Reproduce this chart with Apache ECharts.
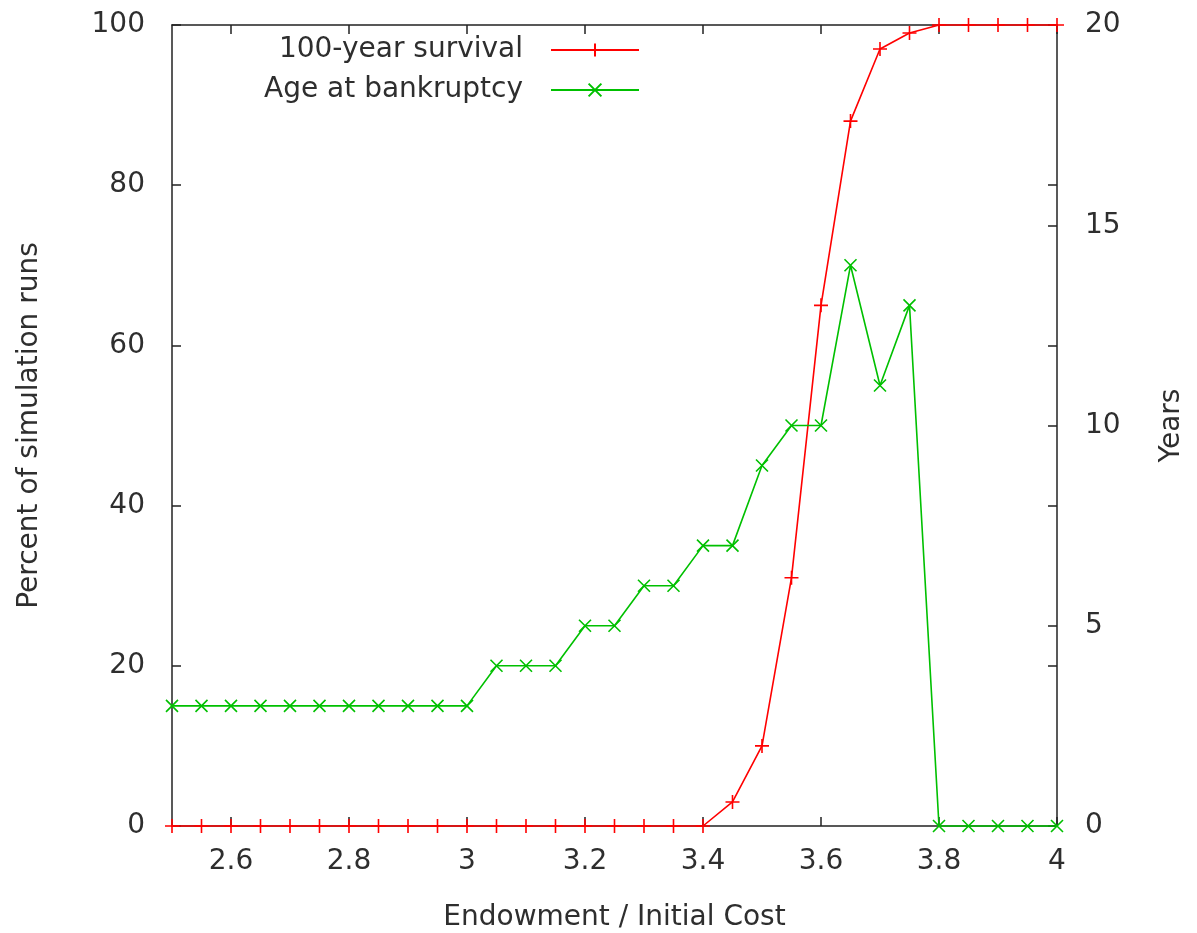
<!DOCTYPE html>
<html>
<head>
<meta charset="utf-8">
<script src="https://cdn.jsdelivr.net/npm/echarts@6/dist/echarts.min.js"></script>
<style>html,body{margin:0;padding:0;background:#fff;}#c{width:1197px;height:933px;}</style>
</head>
<body>
<div id="c"></div>
<script>
const endowment = [2.5, 2.55, 2.6, 2.65, 2.7, 2.75, 2.8, 2.85, 2.9, 2.95, 3.0, 3.05, 3.1, 3.15, 3.2, 3.25, 3.3, 3.35, 3.4, 3.45, 3.5, 3.55, 3.6, 3.65, 3.7, 3.75, 3.8, 3.85, 3.9, 3.95, 4.0];
const survivalPct = [0, 0, 0, 0, 0, 0, 0, 0, 0, 0, 0, 0, 0, 0, 0, 0, 0, 0, 0, 3, 10, 31, 65, 88, 97, 99, 100, 100, 100, 100, 100];
const bankruptcyAge = [3, 3, 3, 3, 3, 3, 3, 3, 3, 3, 3, 4, 4, 4, 5, 5, 6, 6, 7, 7, 9, 10, 10, 14, 11, 13, 0, 0, 0, 0, 0];
const xTicks = [2.6, 2.8, 3.0, 3.2, 3.4, 3.6, 3.8, 4.0];
const seriesNames = ['100-year survival', 'Age at bankruptcy'];
const axisNames = {x: 'Endowment / Initial Cost', y: 'Percent of simulation runs', y2: 'Years'};

const FONT = 'DejaVu Sans';
const TXT = '#2e2e2e';
const AX = '#222';
const fontSize = 28;

const chart = echarts.init(document.getElementById('c'), null, {renderer: 'canvas'});
const axLine = {show: true, onZero: false, lineStyle: {color: AX, width: 1.5}};
const tick = {show: true, inside: true, length: 9, lineStyle: {color: AX, width: 1.5}};
const lbl = {color: TXT, fontFamily: FONT, fontSize: fontSize};

const plus = 'path://M0,5L10,5M5,0L5,10';
const cross = 'path://M0,0L10,10M10,0L0,10';

chart.setOption({
  animation: false,
  backgroundColor: '#fff',
  grid: {left: 172, right: 140, top: 25, bottom: 107, containLabel: false, outerBoundsMode: 'none'},
  legend: [
    {data: [seriesNames[0]], right: 557, top: 36, align: 'right', padding: 0, itemWidth: 88, itemHeight: 16,
     textStyle: {color: TXT, fontFamily: FONT, fontSize: fontSize, padding: [0, 23, 0, 0]}},
    {data: [seriesNames[1]], right: 557, top: 76, align: 'right', padding: 0, itemWidth: 88, itemHeight: 16,
     textStyle: {color: TXT, fontFamily: FONT, fontSize: fontSize, padding: [0, 23, 0, 0]}}
  ],
  xAxis: [
    {type: 'value', min: 2.5, max: 4, position: 'bottom',
     name: axisNames.x, nameLocation: 'middle', nameGap: 78,
     nameTextStyle: {color: TXT, fontFamily: FONT, fontSize: fontSize},
     axisLine: axLine, axisTick: Object.assign({customValues: xTicks}, tick),
     axisLabel: Object.assign({customValues: xTicks, margin: 22}, lbl),
     splitLine: {show: false}},
    {type: 'value', min: 2.5, max: 4, position: 'top',
     axisLine: axLine, axisTick: Object.assign({customValues: xTicks}, tick),
     axisLabel: {show: false}, splitLine: {show: false}}
  ],
  yAxis: [
    {type: 'value', min: 0, max: 100, interval: 20, position: 'left',
     name: axisNames.y, nameLocation: 'middle', nameGap: 128, nameRotate: 90,
     nameTextStyle: {color: TXT, fontFamily: FONT, fontSize: fontSize},
     axisLine: axLine, axisTick: tick,
     axisLabel: Object.assign({margin: 27}, lbl), splitLine: {show: false}},
    {type: 'value', min: 0, max: 20, interval: 5, position: 'right',
     name: axisNames.y2, nameLocation: 'middle', nameGap: 101, nameRotate: 90,
     nameTextStyle: {color: TXT, fontFamily: FONT, fontSize: fontSize},
     axisLine: axLine, axisTick: tick,
     axisLabel: Object.assign({margin: 28}, lbl), splitLine: {show: false}},
    {type: 'value', min: 0, max: 100, interval: 20, position: 'right',
     axisLine: {show: false}, axisTick: tick, axisLabel: {show: false}, splitLine: {show: false}}
  ],
  series: [
    {name: seriesNames[0], type: 'line', xAxisIndex: 0, yAxisIndex: 0, clip: false,
     data: endowment.map((x, i) => [x, survivalPct[i]]),
     symbol: plus, symbolSize: 14, showAllSymbol: true,
     lineStyle: {color: '#ff0000', width: 1.6},
     itemStyle: {color: '#ff0000', borderColor: '#ff0000', borderWidth: 1.6}},
    {name: seriesNames[1], type: 'line', xAxisIndex: 0, yAxisIndex: 1, clip: false,
     data: endowment.map((x, i) => [x, bankruptcyAge[i]]),
     symbol: cross, symbolSize: 12, showAllSymbol: true,
     lineStyle: {color: '#00c000', width: 1.6},
     itemStyle: {color: '#00c000', borderColor: '#00c000', borderWidth: 1.6}}
  ]
});
</script>
</body>
</html>
